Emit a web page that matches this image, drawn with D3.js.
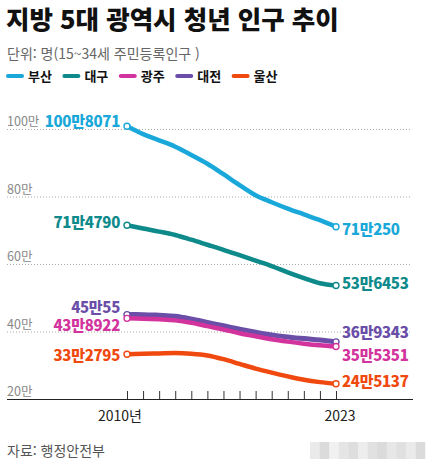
<!DOCTYPE html>
<html lang="ko">
<head>
<meta charset="UTF-8">
<title>지방 5대 광역시 청년 인구 추이</title>
<script src="https://d3js.org/d3.v7.min.js"></script>
<style>
  html, body { margin: 0; padding: 0; background: #fff; }
  svg { display: block; font-family: "Noto Sans CJK KR", "Noto Sans", sans-serif; }
</style>
</head>
<body>
<script>
// data (persons, 15~34세 주민등록인구)
const years = [2010, 2011, 2012, 2013, 2014, 2015, 2016, 2017, 2018, 2019, 2020, 2021, 2022, 2023];
const cities = ["부산", "대구", "광주", "대전", "울산"];
const busan   = [1008071, 985000, 966500, 947600, 923000, 897000, 866000, 834000, 804000, 783000, 764000, 747000, 730000, 710250];
const daegu   = [714790, 705000, 696000, 686000, 672000, 657000, 642000, 626000, 610000, 594000, 575000, 558000, 543000, 536453];
const gwangju = [438922, 438000, 436000, 433000, 426000, 416000, 406000, 395000, 386000, 377000, 370000, 364000, 359000, 355351];
const daejeon = [450055, 450000, 448000, 445000, 437000, 427000, 417000, 407000, 398000, 390000, 384000, 379000, 375000, 369343];
const ulsan   = [332795, 334000, 335000, 336000, 334000, 329000, 318000, 304000, 290000, 278000, 267000, 257000, 250000, 245137];
const yTicks = [200000, 400000, 600000, 800000, 1000000];
const xLabels = ["2010년", "2023"];

const colors = {"부산": "#19a8d9", "대구": "#0f8a8b", "광주": "#d3339c", "대전": "#6a4ea8", "울산": "#f0490f"};
const seriesByCity = {"부산": busan, "대구": daegu, "광주": gwangju, "대전": daejeon, "울산": ulsan};
// draw order (purple under magenta)
const drawOrder = ["부산", "대구", "대전", "광주", "울산"];
// vertical nudge of end labels (label centre minus point)
const leftNudge  = {"부산": -5, "대구": -3, "광주": 7, "대전": -7.5, "울산": 1};
const rightNudge = {"부산": 3, "대구": -1.5, "광주": 8.5, "대전": -9, "울산": -2.5};

const W = 437, H = 467;
const svg = d3.select("body").append("svg").attr("width", W).attr("height", H);

const x = d3.scaleLinear().domain([2010, 2023]).range([127, 336]);
const y = d3.scaleLinear().domain([200000, 1000000]).range([399, 129]);

const fmt = v => Math.floor(v / 10000) + "만" + (v % 10000);

// title
svg.append("text").attr("x", 6).attr("y", 29)
  .attr("font-size", 25.5).attr("font-weight", 900).attr("fill", "#111")
  .text("지방 5대 광역시 청년 인구 추이");
svg.append("text").attr("x", 7).attr("y", 59)
  .attr("font-size", 14).attr("fill", "#666")
  .text("단위: 명(15~34세 주민등록인구 )");

// legend
const leg = svg.append("g").selectAll("g").data(cities).join("g")
  .attr("transform", (d, i) => `translate(${7 + i * 56.4},76)`);
leg.append("line").attr("x1", 1).attr("x2", 15)
  .attr("stroke", d => colors[d]).attr("stroke-width", 4).attr("stroke-linecap", "round");
leg.append("text").attr("x", 21).attr("y", 5)
  .attr("font-size", 13).attr("font-weight", 700).attr("fill", "#111")
  .text(d => d);

// grid
const grid = svg.append("g");
grid.selectAll("line").data(yTicks.filter(d => d > 200000)).join("line")
  .attr("x1", 7).attr("x2", 412)
  .attr("y1", d => y(d) + 0.5).attr("y2", d => y(d) + 0.5)
  .attr("stroke", "#aaa").attr("stroke-width", 1).attr("stroke-dasharray", "1,2");
grid.selectAll("text").data(yTicks).join("text")
  .attr("x", 7).attr("y", d => y(d) - 3)
  .attr("font-size", 12.5).attr("fill", "#888")
  .text(d => (d / 10000) + "만");

// x axis: upward ticks
const xAxis = d3.axisBottom(x).tickValues(years).tickSizeInner(-8).tickSizeOuter(0).tickFormat("");
const ax = svg.append("g").attr("transform", `translate(0,${y(200000)})`).call(xAxis);
ax.select(".domain").remove();
ax.selectAll(".tick line").attr("stroke", "#333");
svg.append("line").attr("x1", 7).attr("x2", 413)
  .attr("y1", y(200000) + 0.5).attr("y2", y(200000) + 0.5)
  .attr("stroke", "#222").attr("stroke-width", 1.2);
svg.append("text").attr("x", x(2010) - 7).attr("y", 421).attr("text-anchor", "middle")
  .attr("font-size", 14).attr("fill", "#222").text(xLabels[0]);
svg.append("text").attr("x", x(2023) + 4).attr("y", 421).attr("text-anchor", "middle")
  .attr("font-size", 14).attr("fill", "#222").text(xLabels[1]);

// lines
const line = d3.line().x((d, i) => x(years[i])).y(d => y(d)).curve(d3.curveMonotoneX);
const lines = svg.append("g");
drawOrder.forEach(c => {
  lines.append("path").datum(seriesByCity[c])
    .attr("fill", "none").attr("stroke", colors[c])
    .attr("stroke-width", c === "대전" ? 5 : 4.5)
    .attr("stroke-linecap", "round").attr("stroke-linejoin", "round")
    .attr("d", line);
});

// end points and labels
drawOrder.forEach(c => {
  const s = seriesByCity[c];
  const n = s.length - 1;
  [[0, s[0]], [n, s[n]]].forEach(([i, v]) => {
    svg.append("circle").attr("cx", x(years[i])).attr("cy", y(v)).attr("r", 3)
      .attr("fill", "#fff").attr("stroke", colors[c]).attr("stroke-width", 1.4);
  });
  svg.append("text").attr("x", x(years[0]) - 7).attr("y", y(s[0]) + leftNudge[c] + 5.5)
    .attr("text-anchor", "end").attr("font-size", 15).attr("font-weight", 800)
    .attr("letter-spacing", "-0.3").attr("fill", colors[c]).text(fmt(s[0]));
  svg.append("text").attr("x", x(years[n]) + 6).attr("y", y(s[n]) + rightNudge[c] + 5.5)
    .attr("text-anchor", "start").attr("font-size", 15).attr("font-weight", 800)
    .attr("letter-spacing", "-0.3").attr("fill", colors[c]).text(fmt(s[n]));
});

// source
svg.append("text").attr("x", 7).attr("y", 456)
  .attr("font-size", 14).attr("fill", "#555").text("자료: 행정안전부");

// blurred credit block
const blur = [0.18, 0.3, 0.12, 0.22, 0.28, 0.15, 0.25, 0.3, 0.2, 0.26, 0.18, 0.3];
svg.append("g").selectAll("rect").data(blur).join("rect")
  .attr("x", (d, i) => 310 + i * 9.6).attr("y", 442).attr("width", 9.6).attr("height", 17)
  .attr("fill", "#888").attr("opacity", d => d);
</script>
</body>
</html>
